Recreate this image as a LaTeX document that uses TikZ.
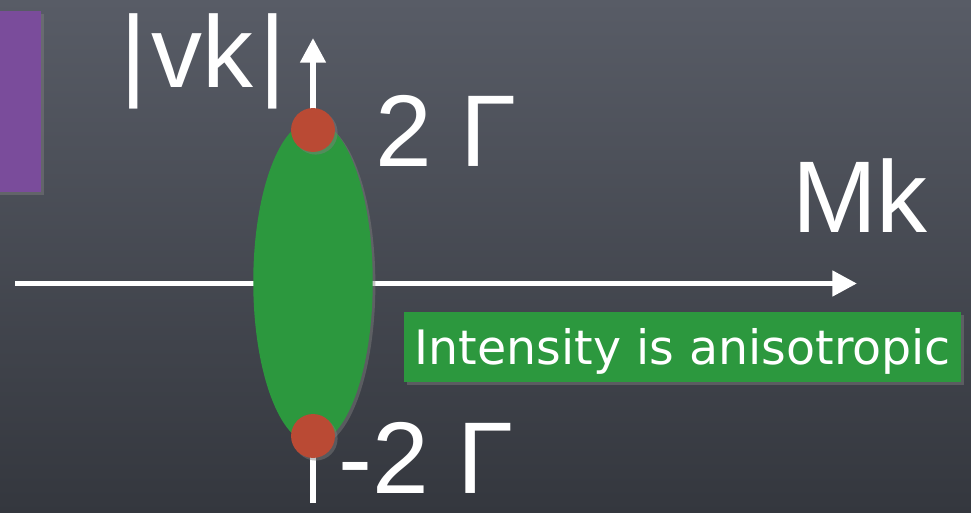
\documentclass[tikz,border=0pt]{standalone}
\usepackage{fontspec}
\setmainfont{Liberation Sans}
\newfontfamily\notefont{DejaVu Sans}
\usetikzlibrary{arrows.meta,shapes.geometric,shadows}

\definecolor{slateTop}{RGB}{88,92,102}
\definecolor{slateBot}{RGB}{52,55,62}
\definecolor{boxPurple}{RGB}{122,76,155}
\definecolor{feltGreen}{RGB}{44,152,62}
\definecolor{dotRed}{RGB}{186,74,52}

\tikzset{
  axis/.style={line width=3.2pt, white, -{Triangle[length=14pt,width=14pt]}},
  biglabel/.style={white, inner sep=0pt, anchor=base, text depth=0pt,
    font=\fontsize{58}{60}\selectfont},
  felt/.style={drop shadow={opacity=0.45, shadow xshift=1.5pt, shadow yshift=-1.5pt}},
}

\begin{document}
\begin{tikzpicture}[x=0.02cm, y=-0.02cm]

  % -- Chalkboard --
  \shade[top color=slateTop, bottom color=slateBot] (0,0) rectangle (971,513);
  \useasboundingbox (0,0) rectangle (971,513);

  % -- Purple card (cut at the edge) --
  \fill[boxPurple, felt] (-10,11) rectangle (41,192);

  % -- Axes --
  \coordinate (mk west) at (15,283.5);
  \coordinate (mk east) at (857,283.5);
  \coordinate (vk south) at (313,503);
  \coordinate (vk north) at (313,38);
  \draw[axis] (mk west) -- (mk east);
  \draw[axis] (vk south) -- (vk north);

  % -- Spectral weight --
  \node[ellipse, fill=feltGreen, felt, inner sep=0pt,
        minimum width=68pt, minimum height=184pt] (peak) at (313,282) {};
  \node[circle, fill=dotRed, felt, inner sep=0pt, minimum size=25pt] (top dot) at (313,130) {};
  \node[circle, fill=dotRed, felt, inner sep=0pt, minimum size=25pt] (bottom dot) at (313,436) {};

  % -- Labels --
  \node[biglabel] (vk label) at (203,88) {|\kern3pt vk\kern3pt|};
  \node[biglabel] (mk label) at (860,233) {Mk};
  \node[biglabel] (plus gamma) at (446,167) {2 Γ};
  \node[biglabel] (minus gamma) at (426,493) {-2 Γ};

  % -- Note --
  \node[anchor=north west, fill=feltGreen, felt, text=white, inner sep=0pt,
        text height=29.5pt, text depth=10.2pt, minimum width=317pt,
        font=\notefont\fontsize{27}{30}\selectfont] (note) at (404,312)
        {Intensity is anisotropic};

\end{tikzpicture}
\end{document}
